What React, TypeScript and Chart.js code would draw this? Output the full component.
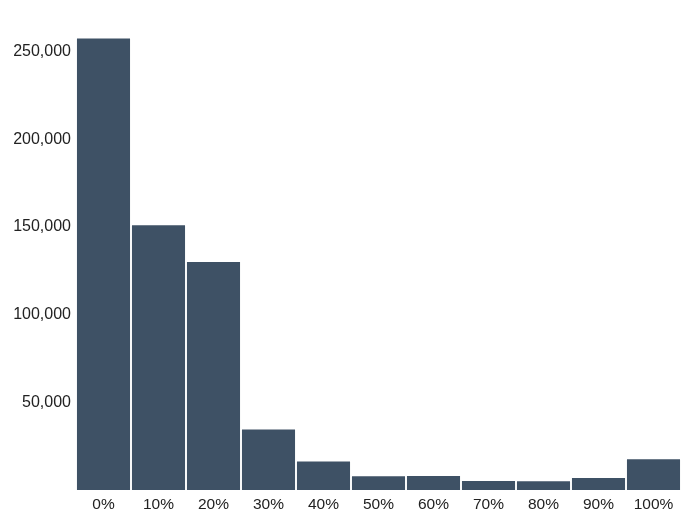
import React, { useEffect, useRef } from "react";
import { Chart, registerables } from "chart.js";

Chart.register(...registerables);

const categories = ["0%", "10%", "20%", "30%", "40%", "50%", "60%", "70%", "80%", "90%", "100%"];
const counts = [257500, 151000, 130000, 34500, 16300, 7900, 8000, 5100, 5000, 6800, 17500];
const yTicks = [50000, 100000, 150000, 200000, 250000];

export default function App() {
  const ref = useRef<HTMLCanvasElement | null>(null);

  useEffect(() => {
    document.body.style.margin = "0";
    const ctx = ref.current!;
    const chart = new Chart(ctx, {
      type: "bar",
      data: {
        labels: categories,
        datasets: [
          {
            data: counts,
            backgroundColor: "#3e5165",
            barPercentage: 0.965,
            categoryPercentage: 1,
            borderWidth: 0,
          },
        ],
      },
      options: {
        responsive: false,
        animation: false,
        maintainAspectRatio: false,
        layout: { padding: { top: 34, right: 0, left: 0, bottom: 0 } },
        plugins: { legend: { display: false }, tooltip: { enabled: false } },
        scales: {
          x: {
            grid: { display: false, drawTicks: false },
            border: { display: false },
            ticks: {
              color: "#222",
              font: { family: "Liberation Sans", size: 15.5 },
              padding: 5,
              maxRotation: 0,
            },
            afterFit: (s: any) => {
              s.height = 21;
            },
          },
          y: {
            min: 0,
            max: 260000,
            grid: { display: false, drawTicks: false },
            border: { display: false },
            afterBuildTicks: (s: any) => {
              s.ticks = yTicks.map((v) => ({ value: v }));
            },
            ticks: {
              color: "#222",
              font: { family: "Liberation Sans", size: 16 },
              padding: 5,
              callback: (v: any) => Number(v).toLocaleString("en-US"),
            },
            afterFit: (s: any) => {
              s.width = 76;
            },
          },
        },
      },
    });
    return () => chart.destroy();
  }, []);

  return (
    <div style={{ position: "absolute", left: 0, top: 0, width: 681, height: 511 }}>
      <canvas ref={ref} width={681} height={511} style={{ width: 681, height: 511 }} />
    </div>
  );
}
